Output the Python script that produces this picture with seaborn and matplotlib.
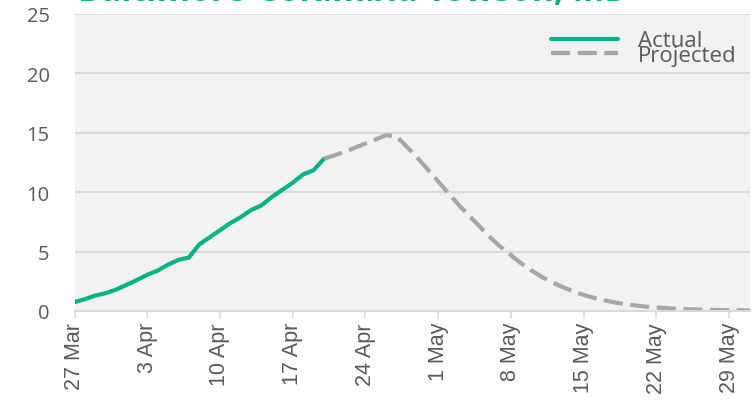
import matplotlib
matplotlib.use("Agg")
import matplotlib.pyplot as plt
import seaborn as sns
import pandas as pd
from matplotlib.lines import Line2D

# ---- data ----
title = "Baltimore-Columbia-Towson, MD"
start_date = "2020-03-27"
actual_values = [0.75, 1.0, 1.3, 1.5, 1.8, 2.2, 2.6, 3.05, 3.4, 3.9,
                 4.3, 4.5, 5.6, 6.2, 6.8, 7.4, 7.9, 8.5, 8.9, 9.6,
                 10.2, 10.8, 11.5, 11.85, 12.8]
projected_start_offset = 24
projected_values = [12.8, 13.1, 13.4, 13.75, 14.1, 14.45, 14.8, 14.7, 13.8, 12.9,
                    11.9, 10.9, 9.9, 8.9, 8.0, 7.1, 6.2, 5.4, 4.7, 4.0,
                    3.4, 2.85, 2.4, 2.0, 1.65, 1.35, 1.1, 0.9, 0.72, 0.58,
                    0.46, 0.37, 0.3, 0.24, 0.19, 0.15, 0.12, 0.1, 0.08, 0.07,
                    0.06, 0.05]
series_names = ["Actual", "Projected"]
tick_dates = ["2020-03-27", "2020-04-03", "2020-04-10", "2020-04-17", "2020-04-24",
              "2020-05-01", "2020-05-08", "2020-05-15", "2020-05-22", "2020-05-29"]
tick_labels = ["27 Mar", "3 Apr", "10 Apr", "17 Apr", "24 Apr",
               "1 May", "8 May", "15 May", "22 May", "29 May"]
y_ticks = [0, 5, 10, 15, 20, 25]
end_date = "2020-05-31"

# ---- build frame ----
d0 = pd.Timestamp(start_date)
act = pd.DataFrame({"date": pd.date_range(d0, periods=len(actual_values)),
                    "value": actual_values, "series": series_names[0]})
proj = pd.DataFrame({"date": pd.date_range(d0 + pd.Timedelta(days=projected_start_offset),
                                           periods=len(projected_values)),
                     "value": projected_values, "series": series_names[1]})
df = pd.concat([act, proj], ignore_index=True)

sns.set_theme(style="white")
plt.rcParams["font.family"] = ["Open Sans", "DejaVu Sans"]

W, H = 755, 402
fig = plt.figure(figsize=(W / 100, H / 100), dpi=100)
left, right, top, bottom = 74.5, 750, 15, 312
ax = fig.add_axes([left / W, 1 - bottom / H, (right - left) / W, (bottom - top) / H])
ax.set_facecolor("#f2f2f2")

green = "#00b386"
grey = "#a6a6a6"
lw = 3.0
dash = (4.6, 1.8)
sns.lineplot(data=df, x="date", y="value", hue="series", style="series",
             palette={series_names[0]: green, series_names[1]: grey},
             dashes={series_names[0]: "", series_names[1]: dash},
             linewidth=lw, ax=ax, legend=False)

ax.set_xlim(d0, pd.Timestamp(end_date))
ax.set_ylim(y_ticks[0], y_ticks[-1])
ax.set_yticks(y_ticks)
ax.set_yticklabels([str(v) for v in y_ticks], fontsize=14.5, color="#595959")
ax.set_xticks(pd.to_datetime(tick_dates))
ax.set_xticklabels(tick_labels, rotation=90, fontsize=15.5, color="#595959",
                   family=["Liberation Sans", "DejaVu Sans"])
ax.set_xlabel("")
ax.set_ylabel("")
ax.grid(axis="y", color="#d9d9d9", linewidth=1.5)
ax.set_axisbelow(True)
for s in ["top", "right", "left"]:
    ax.spines[s].set_visible(False)
ax.spines["bottom"].set_color("#d9d9d9")
ax.spines["bottom"].set_linewidth(1.5)
ax.tick_params(axis="x", length=6, width=1.2, color="#d9d9d9", pad=2, bottom=True)
ax.tick_params(axis="y", length=0, pad=18)

handles = [Line2D([], [], color=green, lw=lw),
           Line2D([], [], color=grey, lw=lw, dashes=dash)]
leg = ax.legend(handles, series_names, loc="upper right", bbox_to_anchor=(1.0, 0.99),
                frameon=False, fontsize=16, labelspacing=-0.3, handlelength=3.0,
                handletextpad=0.9, borderaxespad=0.2)
for t in leg.get_texts():
    t.set_color("#595959")

fig.text(78 / W, 1 - 1.0 / H, title, ha="left", va="baseline", fontsize=24.5,
         fontweight="bold", color=green)

fig.savefig("out.png", dpi=100)
